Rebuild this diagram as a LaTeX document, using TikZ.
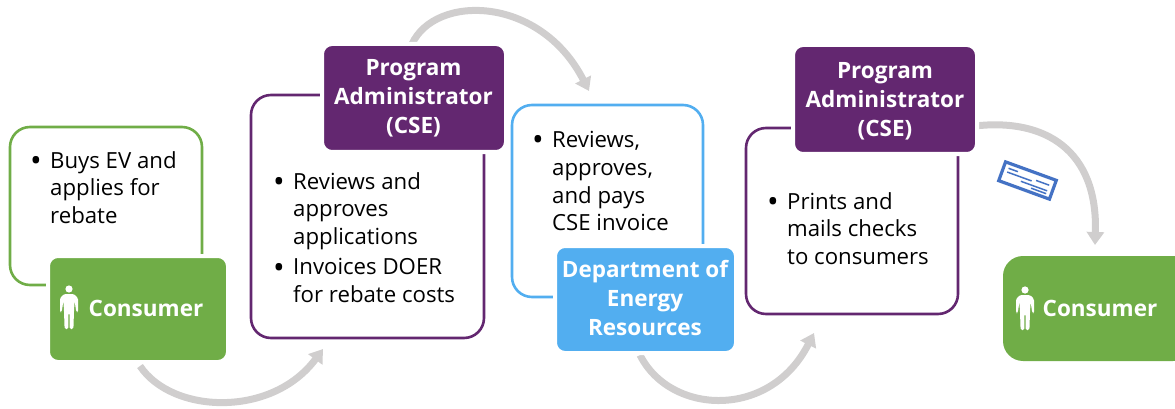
\documentclass[tikz,border=0pt]{standalone}
\usepackage{fontspec}
\setmainfont{Open Sans}
\usetikzlibrary{arrows.meta,calc}
\definecolor{cgreen}{HTML}{70AD47}
\definecolor{cpurple}{HTML}{632770}
\definecolor{cblue}{HTML}{52AEF0}
\definecolor{cgray}{HTML}{D0CECE}
\definecolor{ccheck}{HTML}{4472C4}
\newcommand{\itemdot}{\makebox[20pt][l]{\fontsize{31}{0}\selectfont\raisebox{-3.4pt}{•}}}
\newcommand{\itemgap}{\hspace*{20pt}}
\tikzset{
  x=1pt,y=-1pt,
  outlinebox/.style={draw,line width=2.6pt,rounded corners=20pt,anchor=north west,inner sep=0pt,outer sep=0pt,fill=white},
  headbox/.style={draw=white,line width=4pt,rounded corners=10pt,anchor=north west,inner sep=0pt,outer sep=0pt},
  headtext/.style={text=white,font=\fontsize{22.5}{29}\selectfont\bfseries,align=center,inner sep=0pt},
  bodytext/.style={text=black,font=\fontsize{22.2}{27.8}\selectfont,align=left,anchor=north west,inner sep=0pt},
  sweep/.style={draw=cgray,line width=7pt,-{Triangle[length=13pt,width=17pt]}},
  person/.pic={
    \fill[white] (0,0) circle[radius=3.6];
    \fill[white,rounded corners=1.5pt] (-5,5) -- (5,5) -- (9,9) -- (9,23) -- (7.3,23) -- (5.6,12) -- (5,22) -- (4.4,40) -- (0.7,40) -- (0.5,24) -- (-0.5,24) -- (-0.7,40) -- (-4.4,40) -- (-5,22) -- (-5.6,12) -- (-7.3,23) -- (-9,23) -- (-9,9) -- cycle;
  }
}
\begin{document}
\begin{tikzpicture}
\useasboundingbox (0,0) rectangle (1175,409);
% free ends of the sweeping arrows
\coordinate (a1s) at (140,366); \coordinate (a1e) at (323,349);
\coordinate (a2s) at (412,44);  \coordinate (a2e) at (589,91);
\coordinate (a3s) at (640,355); \coordinate (a3e) at (814,333);
\coordinate (a4s) at (975,126); \coordinate (a4e) at (1095,245);
\draw[sweep] (a1s) .. controls (172,414) and (272,418) .. (a1e);
\draw[sweep] (a2s) .. controls (435,-6) and (540,-5) .. (a2e);
\draw[sweep] (a3s) .. controls (670,415) and (770,420) .. (a3e);
\draw[sweep] (a4s) .. controls (1045,118) and (1098,150) .. (a4e);
% outline boxes
\node[outlinebox,draw=cgreen,minimum width=192pt,minimum height=158pt] (b1) at (10,127) {};
\node[outlinebox,draw=cpurple,minimum width=233pt,minimum height=243pt] (b2) at (251,95) {};
\node[outlinebox,draw=cblue,minimum width=191pt,minimum height=192pt] (b3) at (512,105) {};
\node[outlinebox,draw=cpurple,minimum width=212pt,minimum height=186pt] (b4) at (746,128) {};
% heading boxes
\node[headbox,fill=cgreen,minimum width=180pt,minimum height=106pt] (h1) at (48,256) {};
\node[headbox,fill=cpurple,minimum width=184pt,minimum height=108pt] (h2) at (322,44) {};
\node[headbox,fill=cblue,minimum width=181pt,minimum height=107pt] (h3) at (555,246) {};
\node[headbox,fill=cpurple,minimum width=184pt,minimum height=109pt] (h4) at (793,45) {};
\node[anchor=north west,fill=cgreen,rounded corners=20pt,minimum width=190pt,minimum height=105pt,inner sep=0pt,outer sep=0pt] (h5) at (1003,256) {};
% heading texts
\node[headtext] (t1) at (146,308) {Consumer};
\node[headtext] (t2) at (413.5,98) {Program\\Administrator\\(CSE)};
\node[headtext] (t3) at (645,297.5) {Department of\\Energy\\Resources};
\node[headtext] (t4) at (885,101.5) {Program\\Administrator\\(CSE)};
\node[headtext] (t5) at (1100,308) {Consumer};
\pic at (69,289) {person};
\pic at (1025,290) {person};
% body texts
\node[bodytext] (d1) at (30,151) {\itemdot Buys EV and\\\itemgap applies for\\\itemgap rebate};
\node[bodytext] (d2) at (273,172) {\itemdot Reviews and\\\itemgap approves\\\itemgap applications\\[2.5pt]\itemdot Invoices DOER\\\itemgap for rebate costs};
\node[bodytext] (d3) at (532,131) {\itemdot Reviews,\\\itemgap approves,\\\itemgap and pays\\\itemgap CSE invoice};
\node[bodytext] (d4) at (767,192) {\itemdot Prints and\\\itemgap mails checks\\\itemgap to consumers};
% cheque
\begin{scope}[shift={(1027.5,180.5)},rotate=-20]
\draw[ccheck,line width=3.2pt,fill=white] (-27,-10) rectangle (27,10);
\draw[ccheck,line width=1.5pt] (-22,-5) -- (-12,-5) (-22,-1) -- (4,-1) (-6,3) -- (22,3) (8,-3) -- (22,-3) (6,6) -- (22,6);
\end{scope}
\end{tikzpicture}
\end{document}
